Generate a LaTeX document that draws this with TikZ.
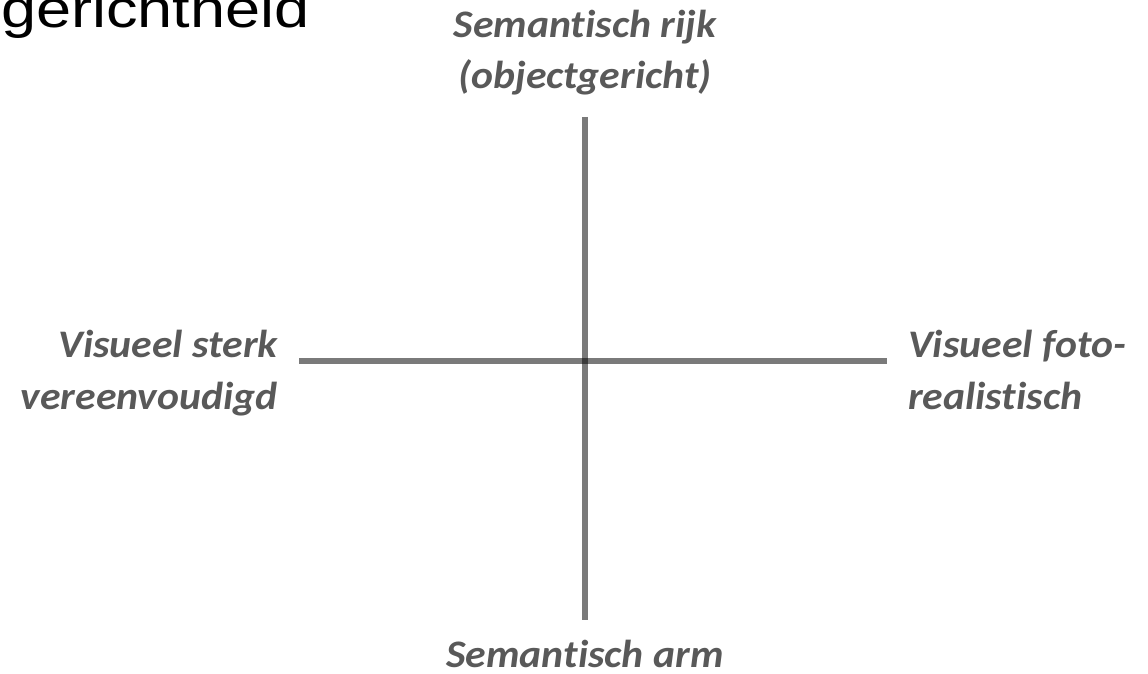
\documentclass[tikz,border=0pt]{standalone}
\usepackage{fontspec}
\setmainfont{Carlito}
\newfontfamily\polefont[FakeStretch=1.07, Ligatures=NoCommon]{Carlito}
\newfontfamily\titlefont[FakeStretch=1.19]{Liberation Sans}
\definecolor{labelgray}{HTML}{595959}
\tikzset{
  axis/.style={line width=6pt, draw=black, draw opacity=0.52},
  pole/.style={font=\polefont\fontsize{39}{48}\selectfont\bfseries\itshape, text=labelgray, inner sep=0pt},
}
\begin{document}
\begin{tikzpicture}[x=1pt, y=-1pt]
\useasboundingbox (0,0) rectangle (1148,674);
\clip (0,0) rectangle (1148,674);
% heading, partly outside the frame
\node[anchor=base west, inner sep=0pt, font=\titlefont\fontsize{53}{60}\selectfont] (head) at (1,28) {gerichtheid};
% axes
\coordinate (top) at (585,117);
\coordinate (bottom) at (585,620);
\coordinate (left) at (299,361);
\coordinate (right) at (887,361);
\draw[axis] (top) -- (bottom);
\draw[axis] (left) -- (right);
% pole labels, one node per line
\node[pole, anchor=base] (rich1) at (585,38) {Semantisch rijk};
\node[pole, anchor=base] (rich2) at (585,89) {(objectgericht)};
\node[pole, anchor=base] (poor) at (585,667) {Semantisch arm};
\node[pole, anchor=base east] (simple1) at (278,357) {Visueel sterk};
\node[pole, anchor=base east] (simple2) at (278,409) {vereenvoudigd};
\node[pole, anchor=base west] (photo1) at (908,357) {Visueel foto-};
\node[pole, anchor=base west] (photo2) at (908,409) {realistisch};
\end{tikzpicture}
\end{document}
